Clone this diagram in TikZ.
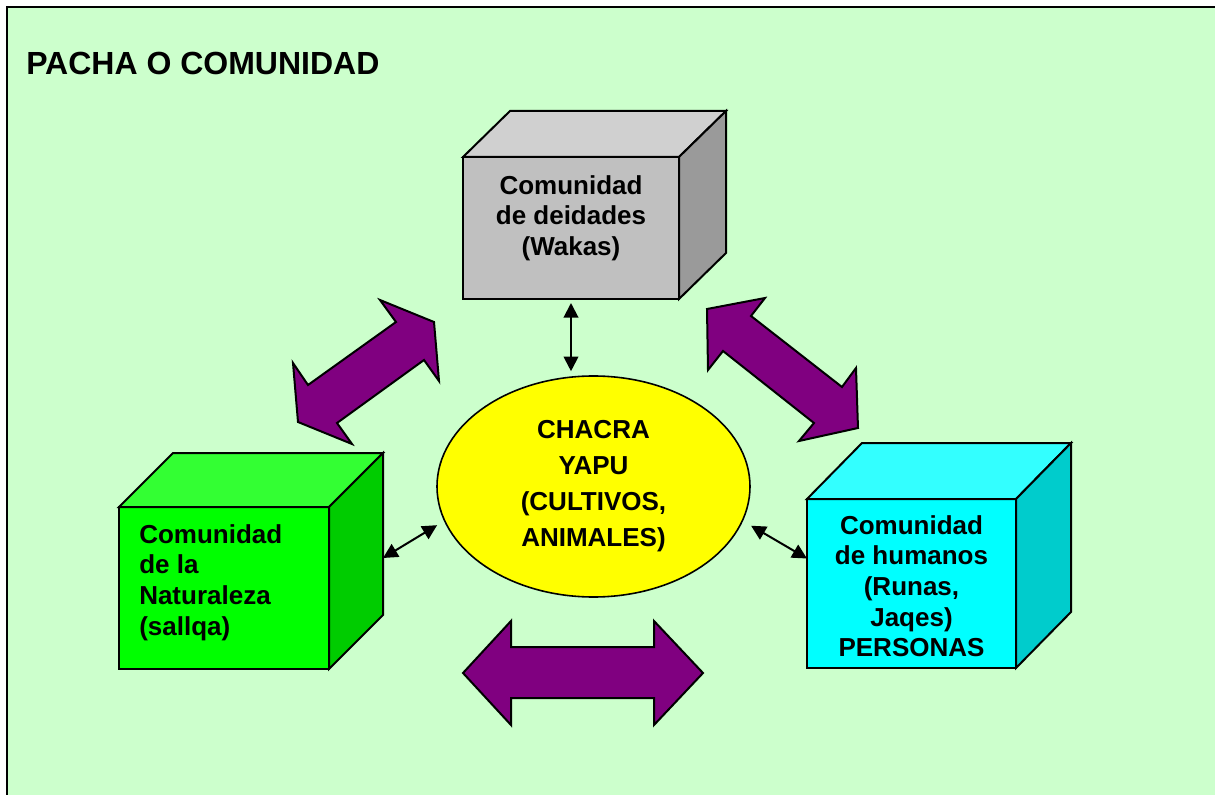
\documentclass[tikz,border=0pt]{standalone}
\usepackage{fontspec}
\setmainfont{Liberation Sans}
\usetikzlibrary{shapes.geometric,positioning,arrows.meta}

\definecolor{fondo}{HTML}{CCFFCC}
\definecolor{morado}{HTML}{800080}
\definecolor{amarillo}{HTML}{FFFF00}
\definecolor{grisfrente}{HTML}{C0C0C0}
\definecolor{gristapa}{HTML}{D0D0D0}
\definecolor{grislado}{HTML}{9A9A9A}
\definecolor{verdefrente}{HTML}{00FF00}
\definecolor{verdetapa}{HTML}{33FF33}
\definecolor{verdelado}{HTML}{00CC00}
\definecolor{cianfrente}{HTML}{00FFFF}
\definecolor{ciantapa}{HTML}{33FFFF}
\definecolor{cianlado}{HTML}{00CCCC}

\begin{document}
\begin{tikzpicture}[x=0.75pt,y=-0.75pt,
  cara/.style={draw,line width=1.5pt,outer sep=0pt,inner sep=0pt},
  texto/.style={font=\bfseries\fontsize{19.5}{23}\selectfont,align=center,inner sep=0pt},
  flecha/.style={draw,fill=morado,line width=1.5pt,line join=miter},
  enlace/.style={{Triangle[length=11pt,width=11pt]}-{Triangle[length=11pt,width=11pt]},line width=1.5pt}]
  \clip (0,0) rectangle (1215,795);
  \draw[fill=fondo,line width=1.5pt] (7,7) rectangle (1240,820);
  \node[inner sep=0pt,anchor=base west,font=\bfseries\fontsize{24}{28}\selectfont] (titulo) at (26,75) {PACHA O COMUNIDAD};
  % cubo de las deidades
  \node[cara,fill=grisfrente,minimum width=162pt,minimum height=106.5pt] (wakas) at (571,228) {};
  \draw[cara,fill=gristapa] (wakas.north west) -- ++(47,-46) -- ([shift={(47,-46)}]wakas.north east) -- (wakas.north east) -- cycle;
  \draw[cara,fill=grislado] (wakas.north east) -- ++(47,-46) -- ([shift={(47,-46)}]wakas.south east) -- (wakas.south east) -- cycle;
  \node[texto,below=13.5pt of wakas.north] (wakastexto) {Comunidad\\de deidades\\(Wakas)};
  % cubo de la naturaleza
  \node[cara,fill=verdefrente,minimum width=157.5pt,minimum height=121.5pt] (sallqa) at (224,588) {};
  \draw[cara,fill=verdetapa] (sallqa.north west) -- ++(54,-54) -- ([shift={(54,-54)}]sallqa.north east) -- (sallqa.north east) -- cycle;
  \draw[cara,fill=verdelado] (sallqa.north east) -- ++(54,-54) -- ([shift={(54,-54)}]sallqa.south east) -- (sallqa.south east) -- cycle;
  \node[texto,align=left,below right=12.75pt and 15pt of sallqa.north west] (sallqatexto) {Comunidad\\de la\\Naturaleza\\(sallqa)};
  % cubo de los humanos
  \node[cara,fill=cianfrente,minimum width=156.75pt,minimum height=126.75pt] (runas) at (911.5,583.5) {};
  \draw[cara,fill=ciantapa] (runas.north west) -- ++(55,-56) -- ([shift={(55,-56)}]runas.north east) -- (runas.north east) -- cycle;
  \draw[cara,fill=cianlado] (runas.north east) -- ++(55,-56) -- ([shift={(55,-56)}]runas.south east) -- (runas.south east) -- cycle;
  \node[texto,below=12pt of runas.north] (runastexto) {Comunidad\\de humanos\\(Runas,\\Jaqes)\\PERSONAS};
  % chacra
  \node[ellipse,draw,line width=1.2pt,fill=amarillo,minimum width=234.75pt,minimum height=165.75pt,
        texto,font=\bfseries\fontsize{19.5}{27}\selectfont] (chacra) at (593.5,486.5) {CHACRA\\YAPU\\(CULTIVOS,\\ANIMALES)};
  % flechas grandes
  \draw[flecha] (380,300) -- (434,322) -- (439,381) -- (424,360) -- (337,423) -- (352,444)
    -- (298,422) -- (293,363) -- (308,385) -- (396,322) -- cycle;
  \draw[flecha] (707,309) -- (765,298) -- (751,316) -- (842,387) -- (856,368) -- (858,428)
    -- (799,441) -- (814,423) -- (723,351) -- (708,370) -- cycle;
  \draw[flecha] (463,673) -- (511,621) -- (511,647) -- (654,647) -- (654,621) -- (703,673)
    -- (654,725) -- (654,698) -- (511,698) -- (511,725) -- cycle;
  % flechas pequenas
  \draw[enlace,shorten <=3pt,shorten >=3pt] (wakas.south) -- (wakas.south |- chacra.north);
  \draw[enlace,shorten >=6pt] ([shift={(54,-30)}]sallqa.east) -- (chacra.193);
  \draw[enlace,shorten <=7pt] (chacra.-13) -- ([shift={(0,-25)}]runas.west);
\end{tikzpicture}
\end{document}
